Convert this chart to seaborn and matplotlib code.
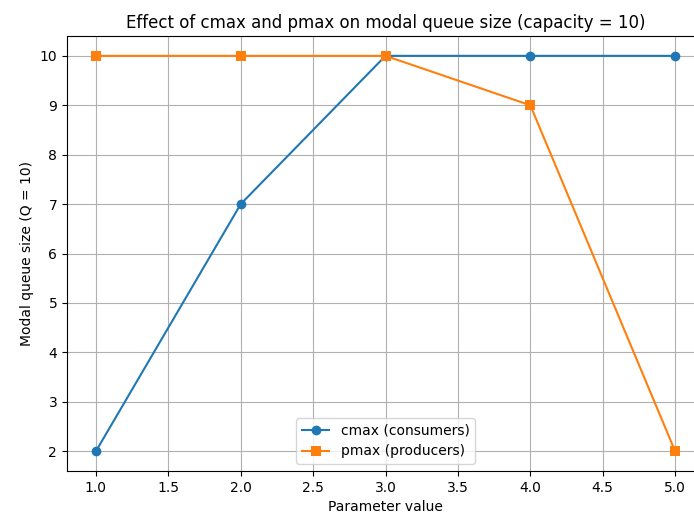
import matplotlib
matplotlib.use("Agg")
import matplotlib.pyplot as plt
import seaborn as sns
import pandas as pd

param = [1.0, 2.0, 3.0, 4.0, 5.0]
cmax_modal = [2, 7, 10, 10, 10]
pmax_modal = [10, 10, 10, 9, 2]

df_c = pd.DataFrame({"x": param, "y": cmax_modal})
df_p = pd.DataFrame({"x": param, "y": pmax_modal})

fig = plt.figure(figsize=(6.94, 5.19), dpi=100)
ax = fig.add_axes([0.0965, 0.0925, 0.918, 0.838])
sns.lineplot(data=df_c, x="x", y="y", marker="o", markersize=7, markeredgewidth=0,
             color="#1f77b4", label="cmax (consumers)", ax=ax)
sns.lineplot(data=df_p, x="x", y="y", marker="s", markersize=7, markeredgewidth=0,
             color="#ff7f0e", label="pmax (producers)", ax=ax)
ax.set_title("Effect of cmax and pmax on modal queue size (capacity = 10)")
ax.set_xlabel("Parameter value")
ax.set_ylabel("Modal queue size (Q = 10)")
ax.grid(True)
ax.legend(loc="lower center")
fig.savefig("out.png", dpi=100)
